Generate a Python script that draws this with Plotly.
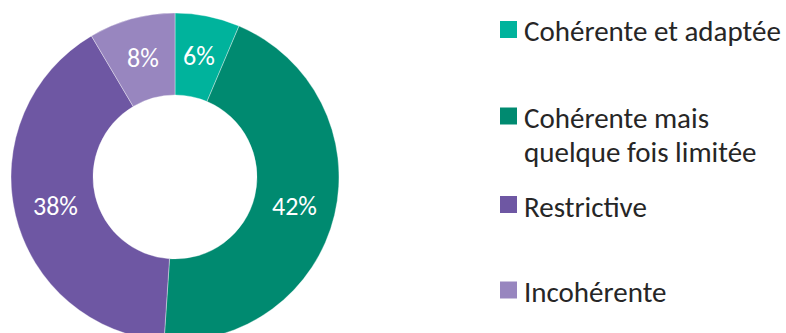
import math
import plotly.graph_objects as go

# Share of answers per category (percent)
categories = ["Cohérente et adaptée", "Cohérente mais\nquelque fois limitée", "Restrictive", "Incohérente"]
values = [6, 42, 38, 8]
colors = ["#00B39C", "#008A70", "#6E57A3", "#9886BF"]

W, H = 786, 354
FONT = "Calibri, Carlito, Lato, sans-serif"
WEIGHT = 300

# Donut placement (pixels)
CX, CY, R, HOLE = 175, 177, 164, 0.5

fig = go.Figure(
    go.Pie(
        labels=[c.replace("\n", " ") for c in categories],
        values=values,
        hole=HOLE,
        sort=False,
        direction="clockwise",
        rotation=0,
        marker=dict(colors=colors, line=dict(color="rgba(255,255,255,0.6)", width=0.6)),
        textinfo="none",
        domain=dict(x=[(CX - R) / W, (CX + R) / W], y=[(H - CY - R) / H, (H - CY + R) / H]),
        showlegend=False,
    )
)

annotations, shapes = [], []

# Percentage labels at the middle of the ring, on each slice's mid-angle
total = sum(values)
r_mid = R * (1 + HOLE) / 2
cum = 0
for v in values:
    ang = 2 * math.pi * (cum + v / 2) / total
    cum += v
    px = CX + r_mid * math.sin(ang)
    py = CY - r_mid * math.cos(ang)
    annotations.append(dict(xref="paper", yref="paper", x=px / W, y=1 - py / H,
                            xanchor="center", yanchor="middle", showarrow=False,
                            text=f"{v}%",
                            font=dict(family=FONT, size=26, color="white", weight=WEIGHT)))

# Legend: coloured squares with their labels on the right
legend_rows = [29.5, 116, 204.5, 290]
LINE = 34
for cat, col, yc in zip(categories, colors, legend_rows):
    shapes.append(dict(type="rect", xref="paper", yref="paper",
                       x0=500 / W, x1=517 / W, y0=1 - (yc + 8.5) / H, y1=1 - (yc - 8.5) / H,
                       fillcolor=col, line=dict(width=0)))
    for i, line in enumerate(cat.split("\n")):
        annotations.append(dict(xref="paper", yref="paper", x=522 / W, y=1 - (yc + 2 + i * LINE) / H,
                                xanchor="left", yanchor="middle", align="left", showarrow=False,
                                text=line,
                                font=dict(family=FONT, size=29, color="#262626", weight=WEIGHT)))

fig.update_layout(
    width=W, height=H,
    margin=dict(l=0, r=0, t=0, b=0),
    paper_bgcolor="white", plot_bgcolor="white",
    shapes=shapes, annotations=annotations,
)

fig.write_html("out.html")
